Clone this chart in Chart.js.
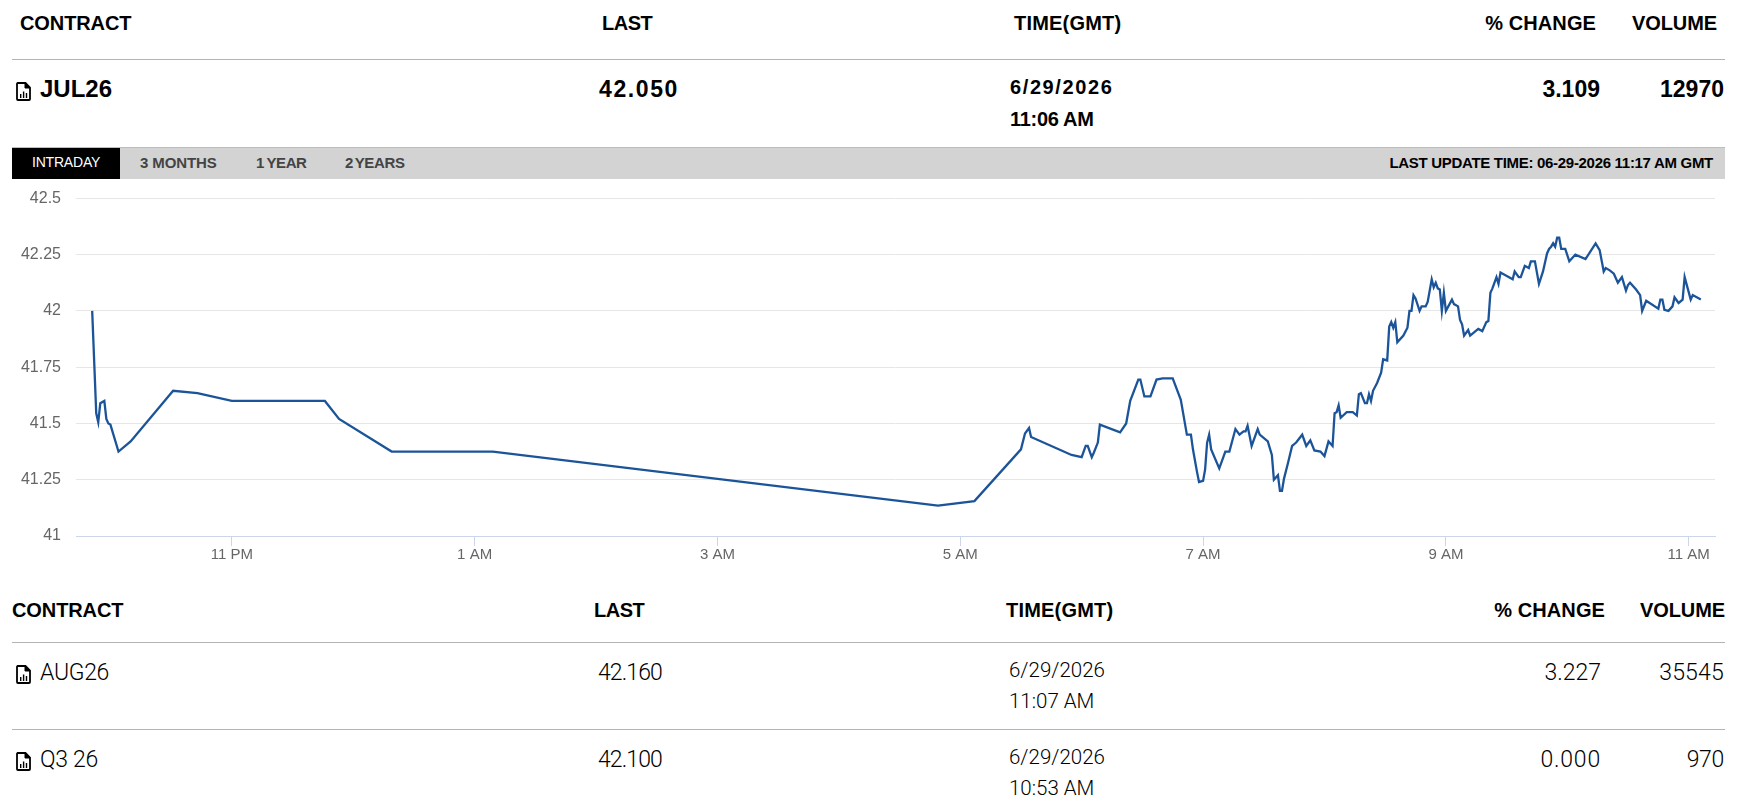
<!DOCTYPE html>
<html>
<head>
<meta charset="utf-8">
<title>JUL26</title>
<script src="https://cdn.jsdelivr.net/npm/chart.js@4"></script>
<style>
  html, body { margin: 0; background: #fff; overflow: hidden; }
  body { position: relative; width: 1745px; height: 808px; font-family: "Liberation Sans", Arial, sans-serif; color: #000; }
  .t { position: absolute; white-space: nowrap; transform: translateY(-50%); line-height: 1; }
  .head { font-size: 20px; font-weight: 700; letter-spacing: -0.1px; }
  .big { font-size: 24px; font-weight: 700; }
  .date { font-size: 20px; font-weight: 700; letter-spacing: 1.6px; }
  .light { font-family: Roboto, sans-serif; font-weight: 300; font-size: 23px; letter-spacing: -0.3px; }
  .lightdate { font-family: Roboto, sans-serif; font-weight: 300; font-size: 20.5px; }
  .rule { position: absolute; left: 12px; width: 1713px; height: 1px; background: #b4b4b4; }
  .bar { position: absolute; left: 12px; top: 147px; width: 1713px; height: 32px; background: #d3d3d3; border-top: 1px solid #bdbdbd; box-sizing: border-box; }
  .tab { position: absolute; top: 162px; transform: translateY(-50%); font-size: 15px; font-weight: 700; color: #444; white-space: nowrap; letter-spacing: -0.1px; }
  .active { position: absolute; left: 12px; top: 148px; width: 108px; height: 31px; background: #000; }
  .doc { position: absolute; left: 16px; width: 15px; height: 19px; }
  canvas { position: absolute; left: 0; top: 180px; }
</style>
</head>
<body>
<svg width="0" height="0" style="position:absolute">
  <symbol id="doc" viewBox="0 0 15 19">
    <path d="M1.5 1h8l4.5 4.5V17a1 1 0 0 1-1 1H2a1 1 0 0 1-1-1V2a1 1 0 0 1 .5-1z" fill="none" stroke="#000" stroke-width="1.8"/>
    <path d="M9 1v5h5" fill="#000" stroke="#000" stroke-width="1"/>
    <path d="M4 12h1.4v4H4zM6.9 9.5h1.4V16H6.9zM9.8 11h1.4v5H9.8z" fill="#000"/>
  </symbol>
</svg>

<span class="t head" style="left:20px;top:23px">CONTRACT</span>
<span class="t head" style="left:602px;top:23px;letter-spacing:-0.5px">LAST</span>
<span class="t head" style="left:1014px;top:23px;letter-spacing:.2px">TIME(GMT)</span>
<span class="t head" style="right:149px;top:23px;letter-spacing:.1px">% CHANGE</span>
<span class="t head" style="right:28px;top:23px">VOLUME</span>
<div class="rule" style="top:59px"></div>

<svg class="doc" style="top:82px"><use href="#doc"/></svg>
<span class="t big" style="left:40px;top:89px">JUL26</span>
<span class="t big" style="left:599px;top:89px;font-size:23px;letter-spacing:1.6px">42.050</span>
<span class="t date" style="left:1010px;top:87px">6/29/2026</span>
<span class="t date" style="left:1010px;top:119px;letter-spacing:-.3px">11:06 AM</span>
<span class="t big" style="right:145px;top:89px;font-size:23px">3.109</span>
<span class="t big" style="right:21px;top:89px;font-size:23px">12970</span>

<div class="bar"></div>
<div class="active"></div>
<span class="tab" style="left:32px;color:#fff;font-weight:400;font-size:14px;letter-spacing:-.2px">INTRADAY</span>
<span class="tab" style="left:140px">3 MONTHS</span>
<span class="tab" style="left:256px;word-spacing:-1px;letter-spacing:-.4px">1 YEAR</span>
<span class="tab" style="left:345px;word-spacing:-2px;letter-spacing:-.3px">2 YEARS</span>
<span class="tab" style="right:32px;color:#000;letter-spacing:-.3px">LAST UPDATE TIME: 06-29-2026 11:17 AM GMT</span>

<canvas id="myChart" width="1745" height="392"></canvas>

<span class="t head" style="left:12px;top:610px">CONTRACT</span>
<span class="t head" style="left:594px;top:610px;letter-spacing:-0.5px">LAST</span>
<span class="t head" style="left:1006px;top:610px;letter-spacing:.2px">TIME(GMT)</span>
<span class="t head" style="right:140px;top:610px;letter-spacing:.1px">% CHANGE</span>
<span class="t head" style="right:20px;top:610px">VOLUME</span>
<div class="rule" style="top:642px"></div>

<svg class="doc" style="top:665px"><use href="#doc"/></svg>
<span class="t light" style="left:40px;top:672px">AUG26</span>
<span class="t light" style="left:598px;top:672px;letter-spacing:-0.9px">42.160</span>
<span class="t lightdate" style="left:1009px;top:670px">6/29/2026</span>
<span class="t lightdate" style="left:1009px;top:701px">11:07 AM</span>
<span class="t light" style="right:144px;top:672px;letter-spacing:0">3.227</span>
<span class="t light" style="right:21px;top:672px;letter-spacing:.2px">35545</span>
<div class="rule" style="top:729px"></div>

<svg class="doc" style="top:752px"><use href="#doc"/></svg>
<span class="t light" style="left:40px;top:759px">Q3 26</span>
<span class="t light" style="left:598px;top:759px;letter-spacing:-0.9px">42.100</span>
<span class="t lightdate" style="left:1009px;top:757px">6/29/2026</span>
<span class="t lightdate" style="left:1009px;top:788px">10:53 AM</span>
<span class="t light" style="right:144px;top:759px;letter-spacing:.8px">0.000</span>
<span class="t light" style="right:21px;top:759px">970</span>

<script>
const times = [
  '21:51','21:53','21:54','21:55','21:57','21:58','21:59','22:00','22:04','22:10',
  '22:31','22:43','23:00','23:46','23:53','00:19','01:09','04:49','05:07','05:30',
  '05:32','05:34','05:35','05:55','06:00','06:02','06:03','06:05','06:06','06:08',
  '06:09','06:19','06:22','06:24','06:28','06:29','06:31','06:34','06:37','06:40',
  '06:45','06:49','06:52','06:54','06:55','06:57','06:58','07:00','07:01','07:02',
  '07:03','07:04','07:08','07:11','07:13','07:16','07:18','07:20','07:21','07:22',
  '07:24','07:27','07:28','07:32','07:34','07:35','07:37','07:38','07:39','07:40',
  '07:42','07:44','07:46','07:49','07:51','07:53','07:55','07:58','08:00','08:02',
  '08:04','08:05','08:06','08:07','08:08','08:11','08:14','08:16','08:17','08:18',
  '08:20','08:21','08:22','08:23','08:24','08:26','08:28','08:29','08:31','08:32',
  '08:33','08:34','08:35','08:36','08:39','08:41','08:42','08:43','08:44','08:45',
  '08:47','08:48','08:50','08:51','08:53','08:54','08:55','08:56','08:57','08:58',
  '08:59','09:00','09:03','09:04','09:06','09:07','09:08','09:09','09:11','09:12',
  '09:16','09:18','09:20','09:21','09:22','09:23','09:25','09:26','09:27','09:33',
  '09:34','09:36','09:37','09:39','09:41','09:42','09:44','09:46','09:48','09:50',
  '09:51','09:52','09:53','09:54','09:55','09:56','09:57','09:59','10:01','10:04',
  '10:09','10:14','10:16','10:18','10:19','10:21','10:23','10:25','10:27','10:29',
  '10:30','10:31','10:34','10:36','10:37','10:39','10:45','10:46','10:47','10:48',
  '10:50','10:52','10:53','10:55','10:57','10:58','11:01','11:02','11:06'
];

const prices = [
  42.00,41.545,41.505,41.59,41.60,41.52,41.50,41.495,41.375,41.42,
  41.645,41.635,41.60,41.60,41.52,41.375,41.375,41.135,41.155,41.385,
  41.455,41.48,41.44,41.36,41.35,41.40,41.40,41.35,41.37,41.415,
  41.495,41.46,41.50,41.60,41.695,41.695,41.62,41.62,41.695,41.70,
  41.70,41.605,41.45,41.45,41.385,41.285,41.24,41.245,41.295,41.415,
  41.45,41.385,41.30,41.375,41.375,41.475,41.45,41.465,41.465,41.49,
  41.40,41.475,41.45,41.42,41.36,41.25,41.27,41.20,41.20,41.255,
  41.325,41.40,41.415,41.45,41.40,41.425,41.38,41.375,41.355,41.42,
  41.40,41.545,41.55,41.58,41.525,41.55,41.55,41.535,41.63,41.635,
  41.59,41.59,41.63,41.60,41.645,41.68,41.725,41.785,41.78,41.93,
  41.95,41.925,41.95,41.86,41.89,41.925,42.00,42.00,42.07,42.055,
  42.00,42.02,42.02,42.04,42.14,42.105,42.125,42.10,42.095,42.00,
  42.08,42.00,42.05,42.03,42.02,41.96,41.94,41.89,41.915,41.89,
  41.92,41.91,41.95,41.955,42.08,42.10,42.15,42.12,42.17,42.14,
  42.175,42.15,42.15,42.20,42.19,42.22,42.22,42.12,42.175,42.255,
  42.275,42.285,42.30,42.285,42.325,42.325,42.275,42.275,42.22,42.25,
  42.23,42.30,42.27,42.175,42.19,42.18,42.165,42.125,42.15,42.09,
  42.115,42.125,42.095,42.07,42.00,42.045,42.01,42.05,42.05,42.005,
  42.00,42.02,42.06,42.035,42.05,42.15,42.05,42.07,42.05
];

const yTicks = [41, 41.25, 41.5, 41.75, 42, 42.25, 42.5];
const xTickTimes = ['23:00', '01:00', '03:00', '05:00', '07:00', '09:00', '11:00'];
const xTickLabels = ['11 PM', '1 AM', '3 AM', '5 AM', '7 AM', '9 AM', '11 AM'];

// session runs past midnight, so early hours count as the next day
function toMinutes(t) {
  const [h, m] = t.split(':').map(Number);
  return (h < 20 ? h + 24 : h) * 60 + m;
}

const points = times.map((t, i) => ({ x: toMinutes(t), y: prices[i] }));
const xTickValues = xTickTimes.map(toMinutes);
const fontFamily = '"Liberation Sans", Arial, sans-serif';

new Chart('myChart', {
  type: 'line',
  data: {
    datasets: [{
      label: 'JUL26',
      data: points,
      borderColor: '#1c5499',
      borderWidth: 2.3,
      pointRadius: 0,
      tension: 0,
      fill: false
    }]
  },
  options: {
    responsive: false,
    animation: false,
    layout: { padding: { top: 18.3, right: 30, left: 0, bottom: 0 } },
    plugins: {
      legend: { display: false },
      tooltip: { enabled: false }
    },
    scales: {
      x: {
        type: 'linear',
        min: toMinutes('21:43'),
        max: toMinutes('11:13'),
        afterBuildTicks: scale => { scale.ticks = xTickValues.map(value => ({ value })); },
        afterFit: scale => {
          scale.height = 36;
          scale.paddingLeft = 0;
          scale.paddingRight = 0;
        },
        grid: { drawOnChartArea: false, tickLength: 10, tickColor: '#ccd6eb', tickWidth: 1 },
        border: { color: '#ccd6eb' },
        ticks: {
          color: '#666666',
          font: { family: fontFamily, size: 15 },
          padding: 0,
          maxRotation: 0,
          callback: value => xTickLabels[xTickValues.indexOf(value)]
        }
      },
      y: {
        min: 41,
        max: 42.5,
        afterBuildTicks: scale => { scale.ticks = yTicks.map(value => ({ value })); },
        // keep the plot edges fixed, labels may overhang
        afterFit: scale => {
          scale.width = 76;
          scale.paddingTop = 0;
          scale.paddingBottom = 0;
        },
        grid: { color: '#e6e6e6', drawTicks: false, tickLength: 0 },
        border: { display: false },
        ticks: {
          color: '#666666',
          font: { family: fontFamily, size: 16 },
          padding: 15,
          labelOffset: 0,
          callback: value => String(value)
        }
      }
    }
  }
});
</script>
</body>
</html>
